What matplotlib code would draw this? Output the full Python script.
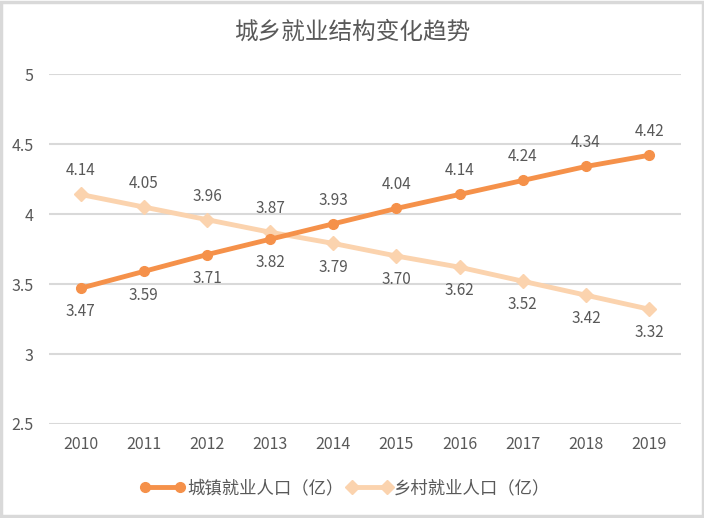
import matplotlib.pyplot as plt
from matplotlib.patches import Rectangle

plt.rcParams['font.family'] = ['Noto Sans CJK SC', 'DejaVu Sans']

years = ['2010', '2011', '2012', '2013', '2014', '2015', '2016', '2017', '2018', '2019']
urban = [3.47, 3.59, 3.71, 3.82, 3.93, 4.04, 4.14, 4.24, 4.34, 4.42]
rural = [4.14, 4.05, 3.96, 3.87, 3.79, 3.70, 3.62, 3.52, 3.42, 3.32]
urban_labels = ['3.47', '3.59', '3.71', '3.82', '3.93', '4.04', '4.14', '4.24', '4.34', '4.42']
rural_labels = ['4.14', '4.05', '3.96', '3.87', '3.79', '3.70', '3.62', '3.52', '3.42', '3.32']

text_color = '#595959'
orange = '#F5914A'
peach = '#FBD3AE'

fig = plt.figure(figsize=(7.04, 5.18), dpi=100)
ax = fig.add_axes([0.0696, 0.1815, 0.8974, 0.6755])

x = list(range(len(years)))
ax.plot(x, urban, color=orange, lw=3.5, marker='o', ms=7, label='城镇就业人口（亿）', zorder=3)
ax.plot(x, rural, color=peach, lw=3.5, marker='D', ms=7, label='乡村就业人口（亿）', zorder=2)

for i in x:
    off_u = -17 if i < 4 else 17
    off_r = 17 if i < 4 else -17
    ax.annotate(urban_labels[i], (i, urban[i]), xytext=(0, off_u), textcoords='offset points',
                ha='center', va='center', fontsize=11, color=text_color)
    ax.annotate(rural_labels[i], (i, rural[i]), xytext=(0, off_r), textcoords='offset points',
                ha='center', va='center', fontsize=11, color=text_color)

ax.set_xlim(-0.5, len(years) - 0.5)
ax.set_ylim(2.5, 5)
ax.set_yticks([2.5, 3, 3.5, 4, 4.5, 5])
ax.set_yticklabels(['2.5', '3', '3.5', '4', '4.5', '5'])
ax.set_xticks(x)
ax.set_xticklabels(years)
ax.tick_params(length=0, colors=text_color, labelsize=11.5)
ax.tick_params(axis='x', pad=9)
ax.tick_params(axis='y', pad=11)
ax.grid(axis='y', color='#D9D9D9', lw=1.5)
ax.set_axisbelow(True)
for s in ax.spines.values():
    s.set_visible(False)

fig.text(0.5, 0.938, '城乡就业结构变化趋势', ha='center', va='center', fontsize=17, color=text_color)

leg = fig.legend(loc='center', bbox_to_anchor=(0.49, 0.058), ncol=2, frameon=False, numpoints=2,
                 handlelength=2.6, handletextpad=0.1, columnspacing=0.2, fontsize=12.5)
for t in leg.get_texts():
    t.set_color(text_color)

fig.patches.append(Rectangle((0.002, 0.003), 0.996, 0.994, transform=fig.transFigure,
                             fill=False, edgecolor='#D9D9D9', lw=2.5))

fig.savefig('out.png', dpi=100)
